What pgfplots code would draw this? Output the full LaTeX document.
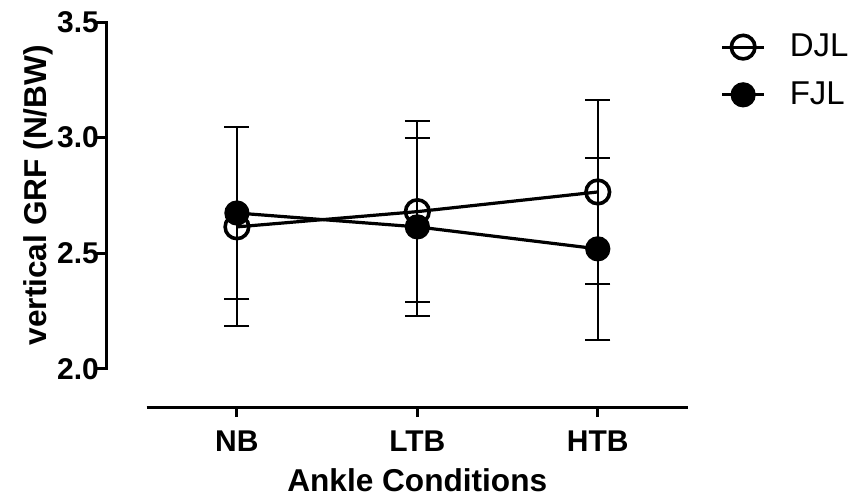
\documentclass[border=0pt]{standalone}
\usepackage{fontspec}
\setmainfont{Liberation Sans}
\usepackage{pgfplots}
\pgfplotsset{compat=1.18}
\usepackage{pgfplotstable}

\pgfplotstableread{
x y e
0 2.614 0.43
1 2.680 0.393
2 2.765 0.398
}\djl
\pgfplotstableread{
x y e
0 2.674 0.37
1 2.614 0.385
2 2.519 0.393
}\fjl

\begin{document}
\begin{tikzpicture}
\begin{axis}[
  name=ax,
  scale only axis,
  width=290.5pt, height=192.5pt,
  xmin=-0.72, xmax=2.5,
  ymin=1.835, ymax=3.5,
  axis x line*=bottom, axis y line*=left,
  x axis line style={draw=none},
  y axis line style={draw=none},
  xtick={0,1,2},
  xticklabels={NB,LTB,HTB},
  ytick={2,2.5,3,3.5},
  tick align=outside,
  major tick length=5pt,
  tick style={line width=1.5pt, black},
  yticklabel style={/pgf/number format/fixed, /pgf/number format/fixed zerofill, /pgf/number format/precision=1, xshift=4.5pt},
  xticklabel style={yshift=-3.5pt},
  /pgf/number format/assume math mode=true,
  ticklabel style={font=\fontsize{15}{17}\selectfont\bfseries},
  xlabel={Ankle Conditions},
  ylabel={vertical GRF (N/BW)},
  label style={font=\fontsize{15.8}{18}\selectfont\bfseries},
  xlabel style={at={(rel axis cs:0.534,0)}, anchor=center, yshift=-36.5pt},
  ylabel style={at={(rel axis cs:0,0.55)}, anchor=center, yshift=34.5pt},
  legend style={at={(rel axis cs:1.045,0.99)}, anchor=north west, draw=none, fill=none,
    font=\fontsize{16.5}{19}\selectfont, row sep=7pt,
    nodes={inner xsep=8pt},
    /tikz/every odd column/.append style={column sep=4pt}},
  legend cell align=left,
  legend image code/.code={\draw[mark repeat=2,mark phase=2,#1] plot coordinates {(0pt,0pt) (10.5pt,0pt) (21pt,0pt)};},
  clip=false,
]
\addplot[black, line width=1.6pt, mark=o, mark size=5.9pt,
  mark options={line width=1.8pt, fill=none},
  error bars/.cd, y dir=both, y explicit,
  error bar style={line width=1pt, black},
  error mark options={line width=1pt, mark size=6.25pt, rotate=90, black}]
  table[x=x, y=y, y error=e] {\djl};
\addlegendentry{DJL}
\addplot[black, line width=1.6pt, mark=*, mark size=5.5pt,
  mark options={fill=black},
  error bars/.cd, y dir=both, y explicit,
  error bar style={line width=1pt, black},
  error mark options={line width=1pt, mark size=6.25pt, rotate=90, black}]
  table[x=x, y=y, y error=e] {\fjl};
\addlegendentry{FJL}
\draw[line width=1.5pt, line cap=rect] (axis cs:-0.72,2) -- (axis cs:-0.72,3.5);
\draw[line width=1.5pt] (axis cs:-0.5,1.835) -- (axis cs:2.5,1.835);
\end{axis}
\pgfresetboundingbox
\path ([shift={(-53.5pt,-46.5pt)}]ax.south west) rectangle ([shift={(371.5pt,203.5pt)}]ax.south west);
\end{tikzpicture}
\end{document}
